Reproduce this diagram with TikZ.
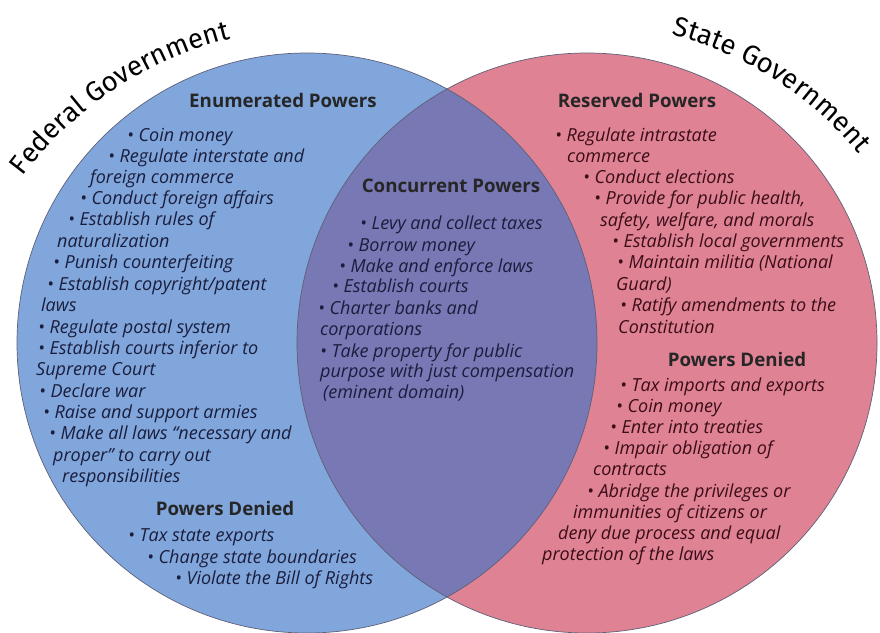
\documentclass[tikz,border=0pt]{standalone}
\usepackage{fontspec}
\usetikzlibrary{decorations.text}
\newfontfamily\itemfont{Open Sans}
\newfontfamily\titlefont{Fira Sans}
\definecolor{fedblue}{HTML}{80A6DC}
\definecolor{statepink}{HTML}{DE8294}
\definecolor{bothpurple}{HTML}{7778B4}
\definecolor{fedtext}{HTML}{1B1D3C}
\definecolor{statetext}{HTML}{3B0D18}
\definecolor{rim}{HTML}{5E6078}

\begin{document}
\begin{tikzpicture}[x=1pt, y=-1pt,
     myitem/.style={anchor=base west, inner sep=0pt, font=\itemfont\itshape\fontsize{18}{20}\selectfont},  % one line of a list, placed at its left end
     myheading/.style={anchor=base, inner sep=0pt, font=\itemfont\bfseries\fontsize{18.7}{21}\selectfont, text=black!85},
     mytitle/.style={decorate, decoration={text along path, text align=center, text={|\titlefont\fontsize{27.5}{30}\selectfont|#1}}}
 ]
 \useasboundingbox (0,0) rectangle (880,632);

 \coordinate (fedc) at (307,343);
 \coordinate (statec) at (587,343);

 % the two circles and their overlap
 \fill[fedblue] (fedc) circle[radius=290];
 \fill[statepink] (statec) circle[radius=290];
 \begin{scope}
     \clip (fedc) circle[radius=290];
     \fill[bothpurple] (statec) circle[radius=290];
 \end{scope}
 \draw[rim, line width=0.7pt] (fedc) circle[radius=290];
 \draw[rim, line width=0.7pt] (statec) circle[radius=290];

 % titles bent round the circles (angles are negative because y runs down)
 \coordinate (fedarc) at (319,398);
 \coordinate (statearc) at (581,383);
 \path[mytitle={Federal Government}] (fedarc) ++(-148:370) arc[start angle=-148, end angle=-99, radius=370];
 \path[mytitle={State Government}] (statearc) ++(-80:360) arc[start angle=-80, end angle=-35, radius=360];

 % headings
 \node[myheading] (enumhead) at (283,107) {Enumerated Powers};
 \node[myheading] (fedhead) at (225,515) {Powers Denied};
 \node[myheading] (bothhead) at (451,192) {Concurrent Powers};
 \node[myheading] (reshead) at (637,107) {Reserved Powers};
 \node[myheading] (statehead) at (737,366) {Powers Denied};

 \def\enumlines{
     127/141/• Coin money, 108/162/• Regulate interstate and, 90/183/foreign commerce,
     80/204/• Conduct foreign affairs, 68/225/• Establish rules of, 57/247/naturalization,
     53/268/• Punish counterfeiting, 47/290/{• Establish copyright/patent}, 41/311/laws,
     38/333/• Regulate postal system, 38/354/• Establish courts inferior to, 36/375/Supreme Court,
     39/397/• Declare war, 43/418/• Raise and support armies, 49/439/• Make all laws “necessary and,
     53/461/proper” to carry out, 62/482/responsibilities
 }
 \def\fedlines{
     128/541/• Tax state exports, 147/563/• Change state boundaries, 175/584/• Violate the Bill of Rights
 }
 \def\bothlines{
     360/229/• Levy and collect taxes, 347/251/• Borrow money, 339/272/• Make and enforce laws,
     332/292/• Establish courts, 318/314/• Charter banks and, 320/335/corporations,
     320/357/• Take property for public, 320/377/purpose with just compensation, 323/398/(eminent domain)
 }
 \def\reslines{
     555/141/• Regulate intrastate, 567/162/commerce, 583/183/• Conduct elections,
     594/204/{• Provide for public health,}, 600/226/{safety, welfare, and morals},
     612/247/• Establish local governments, 617/268/• Maintain militia (National, 616/290/Guard),
     620/311/• Ratify amendments to the, 618/333/Constitution
 }
 \def\statelines{
     620/391/• Tax imports and exports, 616/412/• Coin money, 610/433/• Enter into treaties,
     603/454/• Impair obligation of, 593/475/contracts, 587/497/• Abridge the privileges or,
     573/518/immunities of citizens or, 558/539/deny due process and equal, 542/560/protection of the laws
 }

 \foreach \px/\py/\line [count=\x] in \enumlines {
     \node[myitem, text=fedtext] (enum\x) at (\px,\py) {\line};
 }
 \foreach \px/\py/\line [count=\x] in \fedlines {
     \node[myitem, text=fedtext] (fed\x) at (\px,\py) {\line};
 }
 \foreach \px/\py/\line [count=\x] in \bothlines {
     \node[myitem, text=fedtext] (both\x) at (\px,\py) {\line};
 }
 \foreach \px/\py/\line [count=\x] in \reslines {
     \node[myitem, text=statetext] (res\x) at (\px,\py) {\line};
 }
 \foreach \px/\py/\line [count=\x] in \statelines {
     \node[myitem, text=statetext] (state\x) at (\px,\py) {\line};
 }
\end{tikzpicture}
\end{document}
